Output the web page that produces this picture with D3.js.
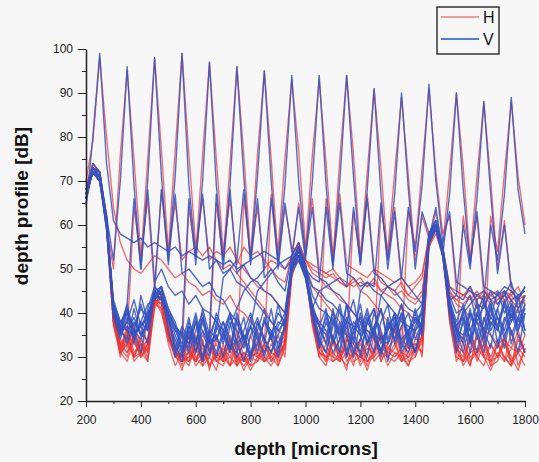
<!DOCTYPE html>
<html>
<head>
<meta charset="utf-8">
<script src="https://cdn.jsdelivr.net/npm/d3@7"></script>
<style>
  html, body { margin: 0; padding: 0; background: #f7f7f7; }
  svg { display: block; font-family: "Liberation Sans", Arial, sans-serif; }
  .tick text { font-size: 12px; fill: #222; }
  .domain, .tick line { stroke: #222; }
</style>
</head>
<body id="body">
<svg id="svg"></svg>
<script>
"use strict";

// depth sampled every 25 microns, 200..1800 (65 points per profile)
var depthStart = 200;
var depthStep = 25;
var xTickValues = [200, 400, 600, 800, 1000, 1200, 1400, 1600, 1800];
var yTickValues = [20, 30, 40, 50, 60, 70, 80, 90, 100];
var legendLabels = ["H", "V"];

// H polarisation profiles, one per mirror position (peaks at 250, 350 ... 1750)
var hProfiles = [
  [70,79,98,80,64, 56,52,50,49,51, 53,52,50,48,49, 47,46,44,45,43, 42,44,41,40,38, 36,31,35,29,34, 49,55,50,38,30, 28,34,31,27,36, 31,28,35,29,33, 36,30,28,33,31, 55,59,54,38,29, 33,28,35,30,27, 31,29,36,28,32],
  [69,74,72,60,50, 76,95,75,53,66, 45,44,38,32,28, 35,29,33,27,34, 31,28,36,30,28, 33,29,31,35,30, 48,54,51,39,33, 29,35,30,32,28, 34,29,31,36,30, 32,37,29,30,34, 56,60,55,40,32, 29,34,30,36,28, 33,30,28,35,31],
  [68,73,71,59,38, 33,35,64,52,75, 98,77,54,65,52, 54,55,53,55,52, 50,51,49,47,45, 43,41,38,36,35, 50,56,50,38,32, 35,30,29,34,33, 28,31,36,29,32, 34,29,33,30,35, 57,59,55,39,31, 35,29,31,33,28, 29,34,30,27,32],
  [67,74,72,61,39, 32,36,33,31,38, 44,68,54,77,99, 76,55,66,52,54, 53,55,52,50,48, 46,45,44,42,40, 51,55,51,46,44, 42,40,38,35,33, 31,27,32,35,30, 33,29,31,36,30, 56,60,54,40,33, 28,31,35,30,33, 30,34,28,31,35],
  [66,73,71,60,37, 31,36,30,34,31, 42,41,33,28,31, 64,53,76,97,75, 54,66,51,55,53, 54,52,50,48,47, 53,56,52,49,48, 46,45,43,42,40, 38,36,34,32,31, 36,31,28,32,34, 55,60,54,41,32, 30,35,29,33,30, 34,29,32,36,31],
  [68,72,70,61,40, 34,32,37,33,30, 43,40,34,31,27, 32,29,31,33,65, 52,74,96,76,53, 64,50,52,51,50, 53,56,52,50,49, 48,49,47,46,48, 45,44,42,40,38, 36,34,32,33,31, 56,59,54,40,31, 29,34,30,28,33, 30,35,29,31,28],
  [67,73,72,62,38, 32,37,31,33,29, 41,44,37,32,30, 35,30,28,33,29, 30,34,29,66,53, 76,95,75,52,64, 55,54,52,51,50, 49,50,48,47,46, 47,46,48,45,44, 43,41,40,38,36, 56,60,55,41,33, 31,28,35,30,29, 33,30,28,34,31],
  [68,72,71,60,39, 31,33,36,32,34, 42,44,35,31,30, 29,34,28,30,27, 33,28,30,29,35, 30,32,67,54,75, 93,77,55,66,50, 49,48,47,46,47, 48,46,47,45,46, 44,45,43,42,44, 57,59,54,42,36, 33,30,31,35,29, 30,33,29,32,30],
  [66,73,71,61,40, 33,31,35,30,33, 44,43,36,30,29, 33,28,30,35,29, 28,32,31,27,30, 31,29,30,32,35, 52,65,54,76,93, 74,53,67,51,50, 49,48,50,47,46, 45,47,44,46,48, 58,60,55,45,42, 41,39,38,36,35, 33,34,32,31,33],
  [67,72,70,59,38, 30,35,29,31,33, 43,42,34,30,31, 29,33,32,28,30, 29,34,28,30,27, 30,29,33,30,33, 50,54,51,39,33, 66,52,75,94,76, 53,67,50,49,48, 47,48,46,47,49, 57,60,55,46,45, 44,45,43,44,42, 43,44,42,40,41],
  [67,73,72,61,39, 32,30,35,31,29, 43,41,35,31,29, 30,35,29,31,33, 29,30,34,29,31, 30,33,29,32,34, 49,55,50,38,31, 30,29,31,32,63, 52,72,91,73,52, 64,46,44,43,45, 56,59,54,44,43, 42,44,41,43,45, 44,42,45,43,44],
  [66,72,70,60,40, 31,29,34,30,33, 42,44,36,31,30, 28,33,29,30,35, 30,28,33,29,30, 34,30,28,31,33, 51,54,50,37,30, 33,29,30,35,29, 30,32,31,64,54, 72,89,71,52,62, 57,60,55,45,43, 44,43,45,42,44, 45,43,44,42,43],
  [68,73,71,62,39, 32,35,30,31,34, 44,42,35,30,29, 31,29,34,28,31, 30,33,29,31,28, 29,31,35,28,32, 50,53,49,38,31, 30,34,29,31,30, 33,29,30,35,31, 30,32,63,55,73, 91,72,58,62,45, 44,46,43,45,44, 43,45,44,46,42],
  [67,72,70,61,41, 33,31,34,30,32, 45,43,36,31,30, 29,31,35,32,29, 31,35,28,31,30, 33,29,31,30,33, 51,54,50,39,32, 30,31,29,34,32, 29,33,30,32,28, 31,30,34,31,35, 56,63,55,72,90, 73,52,62,44,43, 42,44,43,41,44],
  [66,73,72,60,38, 31,33,30,35,34, 44,45,37,32,30, 31,29,33,28,31, 29,34,30,28,30, 31,35,29,31,32, 49,53,49,40,33, 31,30,34,29,31, 30,29,31,35,32, 31,29,30,34,34, 57,60,54,40,31, 62,52,71,88,70, 50,61,45,43,42],
  [68,72,71,61,40, 31,34,30,33,31, 43,42,35,31,29, 30,32,29,34,30, 32,30,28,35,30, 29,33,30,28,33, 50,55,51,38,31, 29,33,30,28,31, 30,34,29,31,30, 29,31,30,32,33, 55,58,53,39,30, 29,31,32,30,62, 54,72,88,71,60]
];

// V polarisation profiles, same mirror positions
var vProfiles = [
  [64,80,99,74,61, 58,57,56,57,55, 56,55,54,55,53, 54,53,52,53,52, 51,52,50,51,52, 53,54,53,52,50, 52,54,50,41,37, 33,39,31,42,36, 30,38,41,33,37, 39,32,36,40,35, 56,60,55,41,33, 38,31,40,35,42, 33,39,36,31,40],
  [68,73,70,62,52, 70,96,69,50,68, 47,50,46,44,45, 42,44,41,40,38, 36,31,39,35,30, 38,33,41,32,37, 49,52,48,39,32, 38,34,41,30,36, 42,33,37,31,39, 34,40,32,37,41, 58,61,53,40,31, 39,34,43,36,32, 41,35,38,44,36],
  [67,72,71,59,41, 37,42,66,50,70, 98,71,51,67,49, 50,48,46,47,44, 43,40,38,33,37, 31,39,34,42,36, 51,54,49,40,34, 31,37,42,35,30, 38,33,40,36,29, 37,42,33,39,35, 57,59,54,41,37, 33,40,36,31,38, 36,43,33,39,35],
  [66,74,72,61,42, 35,41,33,44,38, 46,68,52,71,99, 69,53,67,50,52, 49,50,47,46,44, 42,40,38,36,38, 50,53,48,40,33, 40,34,31,38,43, 35,30,37,41,34, 39,33,31,36,40, 58,60,55,43,36, 31,38,42,34,39, 37,32,40,35,31],
  [65,73,71,60,39, 34,39,36,31,40, 43,46,36,30,35, 66,51,70,97,69, 52,68,49,51,48, 47,45,44,42,40, 52,55,50,42,37, 41,33,38,30,36, 39,35,31,38,42, 33,37,40,34,38, 56,59,54,40,34, 41,36,31,39,35, 32,38,42,36,40],
  [67,72,70,61,43, 38,40,37,41,39, 45,43,40,37,35, 32,38,29,36,67, 50,69,96,71,51, 66,48,50,47,45, 53,56,51,44,41, 40,38,36,35,34, 31,38,35,41,33, 37,42,35,31,39, 57,60,53,41,36, 34,40,35,43,36, 39,34,41,36,42],
  [66,73,72,62,41, 36,34,41,35,38, 44,46,41,38,32, 37,33,39,31,36, 48,50,52,68,52, 71,95,70,50,65, 54,52,50,46,45, 43,42,40,38,37, 35,40,34,31,38, 34,39,35,41,36, 58,61,55,42,35, 40,34,38,33,41, 36,42,35,39,44],
  [67,72,71,60,40, 35,40,34,38,42, 43,45,39,33,29, 36,31,38,33,35, 30,37,41,45,47, 48,50,66,52,69, 94,70,53,64,48, 47,45,44,42,40, 38,36,35,34,36, 40,33,36,31,37, 57,59,54,41,36, 35,41,34,38,43, 39,36,42,37,41],
  [66,73,71,61,42, 37,33,38,35,41, 46,44,40,31,36, 33,39,30,36,34, 38,32,40,34,37, 45,47,49,51,52, 53,64,52,70,94, 69,51,65,49,48, 46,47,45,44,42, 40,38,37,36,38, 58,60,55,42,37, 39,33,40,36,42, 37,43,38,41,36],
  [68,72,70,59,40, 36,42,35,37,40, 44,43,38,34,30, 37,33,41,35,31, 36,40,33,29,35, 39,34,31,37,40, 51,54,50,48,47, 64,50,70,94,71, 51,66,49,48,46, 45,43,41,40,42, 56,59,53,43,38, 42,36,40,44,37, 41,45,39,43,46],
  [66,73,72,61,41, 35,38,36,42,36, 45,44,39,32,37, 34,40,33,30,38, 35,31,38,34,29, 36,41,34,38,37, 50,53,49,41,45, 46,47,48,46,64, 51,68,91,67,50, 63,48,46,44,42, 57,60,54,44,40, 41,44,38,42,39, 45,40,43,38,42],
  [67,72,70,60,42, 37,41,36,34,38, 44,45,40,37,31, 38,34,29,35,39, 33,38,31,36,40, 35,30,36,33,37, 52,55,50,40,34, 31,38,35,42,33, 45,47,46,65,52, 67,90,68,50,63, 58,61,55,46,44, 43,46,42,41,45, 42,44,47,41,44],
  [66,73,71,62,40, 36,38,43,37,33, 45,43,39,35,31, 36,33,39,34,30, 35,39,36,32,37, 34,31,35,40,38, 50,53,48,41,35, 39,33,37,31,38, 36,41,35,44,46, 47,48,64,54,69, 92,70,56,63,47, 46,45,44,45,43, 44,45,43,44,45],
  [67,72,70,61,41, 37,36,39,35,37, 46,44,40,36,33, 39,31,36,33,40, 36,32,34,39,31, 33,38,34,30,37, 51,54,49,40,37, 33,41,35,38,31, 34,39,35,30,36, 40,34,36,38,40, 57,64,53,67,90, 68,51,63,46,45, 44,46,45,43,46],
  [66,73,72,60,42, 38,36,35,37,39, 45,46,41,37,35, 31,36,40,33,34, 38,34,30,33,39, 34,38,36,31,37, 50,52,48,41,38, 36,31,34,39,34, 40,33,36,31,37, 36,40,34,31,38, 58,60,54,43,44, 60,50,66,88,67, 49,60,46,44,45],
  [67,72,71,61,41, 36,37,35,38,36, 44,43,39,36,35, 33,38,36,31,37, 34,40,33,35,30, 38,34,31,35,39, 51,55,50,40,37, 35,40,34,37,31, 34,38,41,34,33, 38,31,34,39,37, 56,59,53,42,37, 40,42,44,43,60, 52,67,89,68,58]
];

var width = 539;
var height = 462;
var margin = { top: 49, right: 14, bottom: 60, left: 86 };

var svg = d3.select("svg").attr("width", width).attr("height", height);
svg.append("rect").attr("width", width).attr("height", height).attr("fill", "#f7f7f7");

var xScale = d3.scaleLinear().domain([200, 1800]).range([margin.left, width - margin.right]);
var yScale = d3.scaleLinear().domain([20, 100]).range([height - margin.bottom - 1, margin.top]);

var line = d3.line()
  .x(function (d, i) { return xScale(depthStart + i * depthStep); })
  .y(function (d) { return yScale(d); });

var curves = svg.append("g").attr("fill", "none").attr("stroke-linejoin", "round");
curves.selectAll("path.h").data(hProfiles).enter().append("path")
  .attr("class", "h")
  .attr("d", line)
  .attr("stroke", "#ee3434")
  .attr("stroke-opacity", 0.72)
  .attr("stroke-width", 1.35);
curves.selectAll("path.v").data(vProfiles).enter().append("path")
  .attr("class", "v")
  .attr("d", line)
  .attr("stroke", "#3552c0")
  .attr("stroke-opacity", 0.85)
  .attr("stroke-width", 1.4);

// axes, major + minor ticks
var y0 = yScale.range()[0];
var xMinor = xTickValues.slice(0, -1).map(function (d) { return d + 100; });
var yMinor = yTickValues.slice(0, -1).map(function (d) { return d + 5; });

svg.append("g").attr("transform", "translate(0," + y0 + ")")
  .call(d3.axisBottom(xScale).tickValues(xMinor).tickSize(3).tickFormat(""))
  .call(function (g) { g.select(".domain").remove(); });
svg.append("g").attr("id", "x-axis").attr("transform", "translate(0," + y0 + ")")
  .call(d3.axisBottom(xScale).tickValues(xTickValues).tickSize(6).tickSizeOuter(0).tickPadding(8).tickFormat(d3.format("d")));

svg.append("g").attr("transform", "translate(" + margin.left + ",0)")
  .call(d3.axisLeft(yScale).tickValues(yMinor).tickSize(4).tickFormat(""))
  .call(function (g) { g.select(".domain").remove(); });
svg.append("g").attr("id", "y-axis").attr("transform", "translate(" + margin.left + ",0)")
  .call(d3.axisLeft(yScale).tickValues(yTickValues).tickSize(8).tickSizeOuter(0).tickPadding(5));

svg.selectAll(".domain").attr("stroke-width", 1.5);

svg.append("text")
  .attr("transform", "translate(21," + 206 + ") rotate(-90)")
  .attr("text-anchor", "middle")
  .attr("dominant-baseline", "central")
  .style("font-size", "19px").style("font-weight", "bold").attr("fill", "#111")
  .text("depth profile [dB]");
svg.append("text")
  .attr("x", 306).attr("y", 455)
  .attr("text-anchor", "middle")
  .style("font-size", "19px").style("font-weight", "bold").attr("fill", "#111")
  .text("depth [microns]");

// legend
var legend = svg.append("g").attr("transform", "translate(437,7)");
legend.append("rect").attr("width", 62).attr("height", 47)
  .attr("fill", "none").attr("stroke", "#333").attr("stroke-width", 1.5);
var legendColors = ["#f39a9a", "#4f7fd6"];
legend.selectAll("line").data(legendLabels).enter().append("line")
  .attr("x1", 4).attr("x2", 42)
  .attr("y1", function (d, i) { return 10 + i * 22; })
  .attr("y2", function (d, i) { return 10 + i * 22; })
  .attr("stroke", function (d, i) { return legendColors[i]; })
  .attr("stroke-width", 1.8);
legend.selectAll("text").data(legendLabels).enter().append("text")
  .attr("x", 46)
  .attr("y", function (d, i) { return 16 + i * 22; })
  .style("font-size", "16px").attr("fill", "#111")
  .text(function (d) { return d; });
</script>
</body>
</html>
